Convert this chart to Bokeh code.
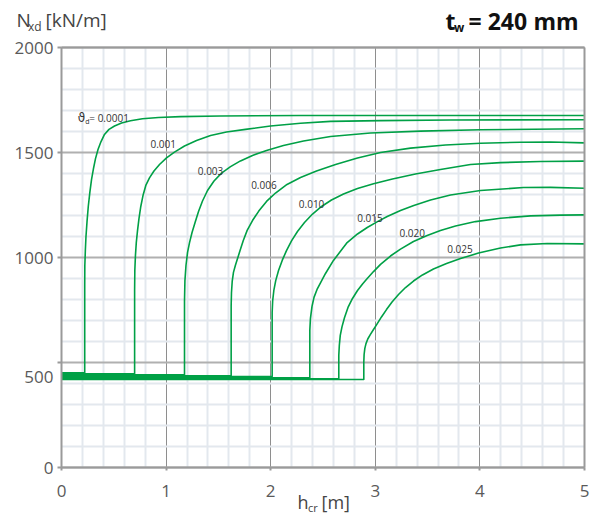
from bokeh.plotting import figure
from bokeh.models import FixedTicker, Label, Range1d, LinearAxis, Grid
from bokeh.core.properties import value
from bokeh.embed import file_html
from bokeh.resources import INLINE

FONT = "Open Sans"
GREEN = "#00a046"
GRAY_AX = "#9a9a9a"

# ---------------- data ----------------
theta_d = ["0.0001", "0.001", "0.003", "0.006", "0.010", "0.015", "0.020", "0.025"]

h_0001 = [0, 0.222, 0.222, 0.223, 0.228, 0.234, 0.244, 0.256, 0.271, 0.287, 0.306, 0.325, 0.349, 0.378,
          0.411, 0.454, 0.507, 0.574, 0.660, 0.774, 0.927, 1.138, 1.520, 2.285, 5.0]
n_0001 = [451, 451, 867, 962, 1033, 1100, 1171, 1243, 1310, 1371, 1424, 1471, 1514, 1552,
          1586, 1610, 1626, 1640, 1651, 1661, 1667, 1671, 1674, 1676, 1676]

h_001 = [0, 0.699, 0.699, 0.701, 0.707, 0.715, 0.727, 0.741, 0.758, 0.779, 0.806, 0.841, 0.884, 0.937,
         1.004, 1.080, 1.176, 1.291, 1.425, 1.577, 1.759, 1.998, 2.285, 2.572, 3.050, 3.719, 5.0]
n_001 = [446, 446, 843, 938, 1010, 1071, 1129, 1186, 1243, 1295, 1343, 1379, 1412, 1443,
         1474, 1502, 1531, 1557, 1581, 1598, 1610, 1626, 1639, 1648, 1652, 1655, 1656]

h_003 = [0, 1.176, 1.176, 1.180, 1.190, 1.205, 1.224, 1.248, 1.277, 1.310, 1.348, 1.396, 1.458, 1.530,
         1.616, 1.711, 1.826, 1.960, 2.122, 2.314, 2.572, 2.954, 3.432, 4.006, 5.0]
n_003 = [441, 441, 795, 890, 962, 1024, 1071, 1119, 1167, 1219, 1269, 1319, 1364, 1402,
         1433, 1460, 1486, 1510, 1533, 1555, 1576, 1593, 1602, 1608, 1613]

h_006 = [0, 1.622, 1.622, 1.625, 1.632, 1.644, 1.662, 1.680, 1.707, 1.738, 1.775, 1.826, 1.886, 1.960,
         2.046, 2.156, 2.285, 2.438, 2.620, 2.830, 3.050, 3.337, 3.671, 4.006, 4.388, 4.675, 5.0]
n_006 = [437, 437, 771, 833, 886, 929, 962, 990, 1033, 1081, 1129, 1176, 1221, 1267,
         1307, 1348, 1381, 1412, 1443, 1474, 1500, 1521, 1536, 1544, 1549, 1550, 1546]

h_010 = [0, 2.014, 2.014, 2.019, 2.030, 2.048, 2.075, 2.110, 2.151, 2.199, 2.256, 2.323, 2.400, 2.486,
         2.581, 2.696, 2.830, 2.983, 3.164, 3.384, 3.623, 3.910, 4.197, 4.579, 5.0]
n_010 = [433, 433, 738, 795, 843, 890, 938, 986, 1033, 1079, 1124, 1167, 1207, 1243,
         1274, 1302, 1329, 1351, 1374, 1398, 1419, 1443, 1452, 1457, 1459]

h_015 = [0, 2.374, 2.374, 2.380, 2.395, 2.414, 2.443, 2.476, 2.524, 2.600, 2.731, 2.830, 2.923, 3.021,
         3.114, 3.241, 3.368, 3.528, 3.719, 4.006, 4.417, 4.675, 5.0]
n_015 = [427, 427, 652, 710, 767, 810, 848, 879, 924, 986, 1071, 1112, 1143, 1171,
         1195, 1224, 1248, 1274, 1298, 1319, 1333, 1334, 1330]

h_020 = [0, 2.651, 2.651, 2.656, 2.665, 2.682, 2.706, 2.739, 2.782, 2.830, 2.878, 2.923, 2.983, 3.050,
         3.145, 3.241, 3.365, 3.496, 3.623, 3.767, 3.958, 4.197, 4.484, 4.771, 5.0]
n_020 = [422, 422, 533, 581, 629, 671, 714, 762, 805, 843, 874, 900, 933, 967,
         1007, 1040, 1076, 1105, 1129, 1150, 1171, 1187, 1198, 1202, 1203]

h_025 = [0, 2.890, 2.890, 2.893, 2.900, 2.911, 2.928, 2.952, 2.980, 3.016, 3.059, 3.107, 3.160, 3.222,
         3.289, 3.365, 3.451, 3.556, 3.681, 3.815, 3.987, 4.197, 4.388, 4.643, 5.0]
n_025 = [419, 419, 500, 538, 567, 590, 612, 633, 655, 683, 717, 752, 788, 824,
         857, 888, 917, 945, 971, 995, 1021, 1045, 1060, 1067, 1065]

curves_h = [h_0001, h_001, h_003, h_006, h_010, h_015, h_020, h_025]
curves_n = [n_0001, n_001, n_003, n_006, n_010, n_015, n_020, n_025]

# curve label anchors (left edge, vertical middle) in data units
label_h = [0.156, 0.851, 1.303, 1.813, 2.269, 2.827, 3.231, 3.687]
label_n = [1662, 1541, 1410, 1344, 1255, 1189, 1117, 1041]

x_ticks = [0, 1, 2, 3, 4, 5]
y_grid_ticks = [0, 500, 1000, 1500, 2000]
y_label_pos = [0, 432, 1000, 1500, 2000]
y_label_text = ["0", "500", "1000", "1500", "2000"]

X_MIN, X_MAX = 0, 5
Y_MIN, Y_MAX = 0, 2000

# ---------------- layout: the chart box sits inside a canvas-wide frame ----------------
W, H = 600, 515
BOX_L, BOX_R, BOX_T, BOX_B = 61, 584, 47, 467      # pixel edges of the chart box
sx = (BOX_R - BOX_L) / (X_MAX - X_MIN)
sy = (BOX_B - BOX_T) / (Y_MAX - Y_MIN)
x_range = Range1d(X_MIN - BOX_L / sx, X_MAX + (W - BOX_R) / sx)
y_range = Range1d(Y_MIN - (H - BOX_B) / sy, Y_MAX + BOX_T / sy)

p = figure(width=W, height=H, x_range=x_range, y_range=y_range,
           output_backend="svg", toolbar_location=None,
           min_border=0, min_border_left=0, min_border_right=0,
           min_border_top=0, min_border_bottom=0)
p.background_fill_color = "white"
p.border_fill_color = "white"
p.outline_line_color = None

x_minor = [i * 0.2 for i in range(26) if i % 5 != 0]
y_minor = [i * 100 for i in range(21) if i % 5 != 0]

# axes fixed onto the chart box
p.xaxis.fixed_location = Y_MIN
p.yaxis.fixed_location = X_MIN
p.xaxis.bounds = (X_MIN, X_MAX)
p.yaxis.bounds = (Y_MIN, Y_MAX)
p.xaxis.ticker = FixedTicker(ticks=x_ticks, minor_ticks=x_minor)
p.yaxis.ticker = FixedTicker(ticks=y_label_pos, minor_ticks=y_grid_ticks)
p.yaxis.major_label_overrides = {k: t for k, t in zip(y_label_pos, y_label_text)}

for ax in (p.xaxis, p.yaxis):
    ax.axis_line_color = GRAY_AX
    ax.axis_line_width = 2
    ax.major_label_text_font = FONT
    ax.major_label_text_font_size = "17px"
    ax.major_label_text_color = "#5a5a5a"

p.xaxis.major_tick_line_color = GRAY_AX
p.xaxis.major_tick_line_width = 2
p.xaxis.major_tick_out = 3
p.xaxis.major_tick_in = 0
p.xaxis.minor_tick_line_color = None
p.xaxis.major_label_standoff = 13

p.yaxis.major_tick_line_color = None
p.yaxis.major_tick_out = 4
p.yaxis.major_tick_in = 0
p.yaxis.minor_tick_line_color = GRAY_AX
p.yaxis.minor_tick_line_width = 2
p.yaxis.minor_tick_out = 4
p.yaxis.minor_tick_in = 0
p.yaxis.major_label_standoff = 4

# top and right borders of the chart box
top_ax = LinearAxis(fixed_location=Y_MAX, bounds=(X_MIN, X_MAX), ticker=FixedTicker(ticks=[]),
                    axis_line_color=GRAY_AX, axis_line_width=2,
                    major_tick_line_color=None, minor_tick_line_color=None,
                    major_label_text_font_size="0px")
right_ax = LinearAxis(fixed_location=X_MAX, bounds=(Y_MIN, Y_MAX), ticker=FixedTicker(ticks=[]),
                      axis_line_color=GRAY_AX, axis_line_width=2,
                      major_tick_line_color=None, minor_tick_line_color=None,
                      major_label_text_font_size="0px")
p.add_layout(top_ax, "above")
p.add_layout(right_ax, "right")

# grids limited to the chart box
p.xgrid.ticker = FixedTicker(ticks=x_ticks, minor_ticks=x_minor)
p.ygrid.ticker = FixedTicker(ticks=y_grid_ticks, minor_ticks=y_minor)
p.xgrid.bounds = (X_MIN, X_MAX)
p.ygrid.bounds = (Y_MIN, Y_MAX)
if "cross_bounds" in Grid.properties():
    p.xgrid.cross_bounds = (Y_MIN, Y_MAX)
    p.ygrid.cross_bounds = (X_MIN, X_MAX)

p.xgrid.grid_line_color = "#8e8e8e"
p.xgrid.grid_line_width = 1
p.xgrid.minor_grid_line_color = "#e3e8ee"
p.xgrid.minor_grid_line_width = 2
p.ygrid.grid_line_color = "#b0b0b0"
p.ygrid.grid_line_width = 2
p.ygrid.minor_grid_line_color = "#e3e8ee"
p.ygrid.minor_grid_line_width = 2

# curves
for hx, ny in zip(curves_h, curves_n):
    p.line(hx, ny, line_color=GREEN, line_width=1.6, line_join="round")

# curve labels
p.text(x=label_h[1:], y=label_n[1:], text=theta_d[1:], text_font=value(FONT),
       text_font_size="10px", text_color="#333333", text_baseline="middle", text_align="left")
p.text(x=[label_h[0]], y=[label_n[0]], text=["\u03d1"], text_font=value("DejaVu Sans"),
       text_font_size="12px", text_color="#333333", text_baseline="middle", text_align="left")
p.text(x=[label_h[0]], y=[label_n[0]], text=["d"], x_offset=7.5, y_offset=3,
       text_font=value(FONT), text_font_size="7px", text_color="#333333",
       text_baseline="middle", text_align="left")
p.text(x=[label_h[0]], y=[label_n[0]], text=["= " + theta_d[0]], x_offset=11.5,
       text_font=value(FONT), text_font_size="10px", text_color="#333333",
       text_baseline="middle", text_align="left")

# titles / axis names (pixel positions converted through the scales; py = text middle)
def lab(px, py, text, size, color="#444444", style="normal", align="left"):
    x = X_MIN + (px - BOX_L) / sx
    y = Y_MIN + (BOX_B - py) / sy
    p.add_layout(Label(x=x, y=y, text=text, text_font=FONT, text_font_size=size,
                       text_color=color, text_font_style=style, text_align=align,
                       text_baseline="middle"))

lab(16, 19, "N", "19px")
lab(27.5, 25.5, "xd", "12px")
lab(45, 19, "[kN/m]", "19px")

lab(445, 20, "t", "23px", "#111111", "bold")
lab(453.5, 26.5, "w", "12px", "#111111", "bold")
lab(468, 20, "= 240", "23px", "#111111", "bold")
lab(533, 20, "mm", "23px", "#111111", "bold")

lab(297, 501, "h", "18px")
lab(307.5, 507, "cr", "11px")
lab(321, 501, "[m]", "18px")

open("out.html", "w").write(file_html(p, INLINE))
